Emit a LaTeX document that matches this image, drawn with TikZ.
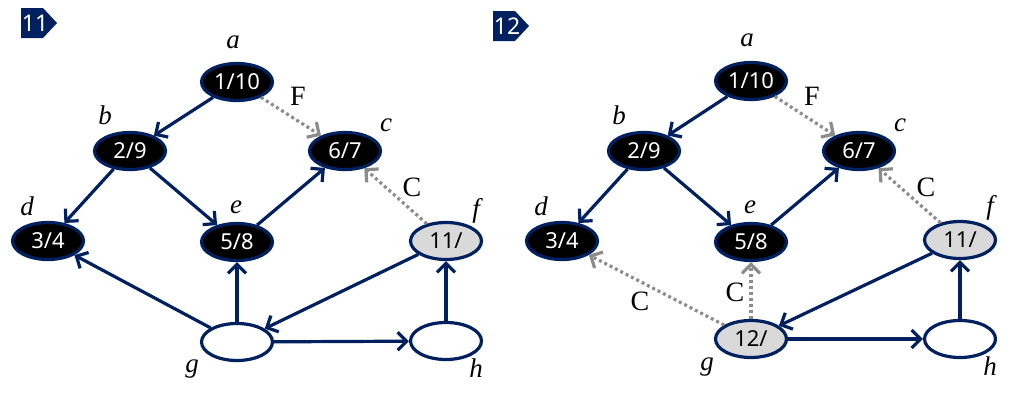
\documentclass[tikz,border=0pt]{standalone}
\usepackage{fontspec}
\setmainfont{Liberation Serif}
\newfontfamily\numfont{Noto Sans}
\usepackage{xcolor}
\usetikzlibrary{shapes, arrows.meta, positioning}

\definecolor{navy}{RGB}{0,32,96}
\definecolor{shade}{RGB}{217,217,217}
\definecolor{dotgrey}{RGB}{140,140,140}

\begin{document}
\begin{tikzpicture}[
        x=1pt, y=-1pt,
        vertex/.style={ellipse, draw=navy, line width=3.2pt, minimum width=71pt, minimum height=37pt, inner sep=0pt, font=\numfont\fontsize{22}{22}\selectfont},
        done/.style={vertex, fill=black, text=white},
        seen/.style={vertex, fill=shade, text=black},
        fresh/.style={vertex, fill=white},
        tree/.style={draw=navy, line width=3.2pt, -{Straight Barb[length=9pt, width=18pt]}},
        back/.style={draw=dotgrey, line width=3.2pt, dash pattern=on 3pt off 3pt, -{Straight Barb[length=9pt, width=18pt]}},
        vlabel/.style={font=\itshape\fontsize{27}{27}\selectfont},
        elabel/.style={font=\fontsize{28}{28}\selectfont},
        badge/.style={text=white, font=\numfont\fontsize{23}{23}\selectfont}
    ]
        \useasboundingbox (0,0) rectangle (1015,402);

        % Step badges
        \fill[navy] (21,8) -- (43,8) -- (57,23) -- (43,38) -- (21,38) -- cycle;
        \node[badge] (step11) at (35,23) {11};
        \fill[navy] (493,11) -- (515,11) -- (529,26) -- (515,41) -- (493,41) -- cycle;
        \node[badge] (step12) at (507,26) {12};

        % Vertices, step 11
        \node[done] (a1) at (237,82) {1/10};
        \node[done] (b1) at (130,151) {2/9};
        \node[done] (c1) at (345,151) {6/7};
        \node[done] (d1) at (48,241) {3/4};
        \node[done] (e1) at (237,242) {5/8};
        \node[seen] (f1) at (446,241) {11/};
        \node[fresh] (g1) at (237,342) {};
        \node[fresh] (h1) at (446,341) {};

        % Vertex names, step 11
        \node[vlabel] (la1) at (233,42) {a};
        \node[vlabel] (lb1) at (105,115) {b};
        \node[vlabel] (lc1) at (386,125) {c};
        \node[vlabel] (ld1) at (27,206) {d};
        \node[vlabel] (le1) at (236,207) {e};
        \node[vlabel] (lf1) at (476,211) {f};
        \node[vlabel] (lg1) at (192,369) {g};
        \node[vlabel] (lh1) at (476,368) {h};

        % Edges, step 11
        \draw[tree] (a1) -- (b1);
        \draw[tree] (b1) -- (d1);
        \draw[tree] (b1) -- (e1);
        \draw[tree] (e1) -- (c1);
        \draw[tree] (g1) -- (d1);
        \draw[tree] (g1) -- (e1);
        \draw[tree] (g1) -- (h1);
        \draw[tree] (h1) -- (f1);
        \draw[tree] (f1) -- (g1);
        \draw[back] (a1) -- (c1);
        \draw[back] (f1) -- (c1);
        \node[elabel] (k1) at (298,96) {F};
        \node[elabel] (k2) at (412,187) {C};

        % Vertices, step 12
        \node[done] (a2) at (751,81) {1/10};
        \node[done] (b2) at (644,151) {2/9};
        \node[done] (c2) at (859,151) {6/7};
        \node[done] (d2) at (562,241) {3/4};
        \node[done] (e2) at (751,242) {5/8};
        \node[seen] (f2) at (960,240) {11/};
        \node[seen] (g2) at (751,339) {12/};
        \node[fresh] (h2) at (960,339) {};

        % Vertex names, step 12
        \node[vlabel] (la2) at (747,40) {a};
        \node[vlabel] (lb2) at (619,115) {b};
        \node[vlabel] (lc2) at (900,125) {c};
        \node[vlabel] (ld2) at (541,206) {d};
        \node[vlabel] (le2) at (750,207) {e};
        \node[vlabel] (lf2) at (990,208) {f};
        \node[vlabel] (lg2) at (707,367) {g};
        \node[vlabel] (lh2) at (990,366) {h};

        % Edges, step 12
        \draw[tree] (a2) -- (b2);
        \draw[tree] (b2) -- (d2);
        \draw[tree] (b2) -- (e2);
        \draw[tree] (e2) -- (c2);
        \draw[tree] (g2) -- (h2);
        \draw[tree] (h2) -- (f2);
        \draw[tree] (f2) -- (g2);
        \draw[back] (a2) -- (c2);
        \draw[back] (f2) -- (c2);
        \draw[back] (g2) -- (d2);
        \draw[back] (g2) -- (e2);
        \node[elabel] (k3) at (812,96) {F};
        \node[elabel] (k4) at (926,187) {C};
        \node[elabel] (k5) at (640,301) {C};
        \node[elabel] (k6) at (735,292) {C};

    \end{tikzpicture}
\end{document}
